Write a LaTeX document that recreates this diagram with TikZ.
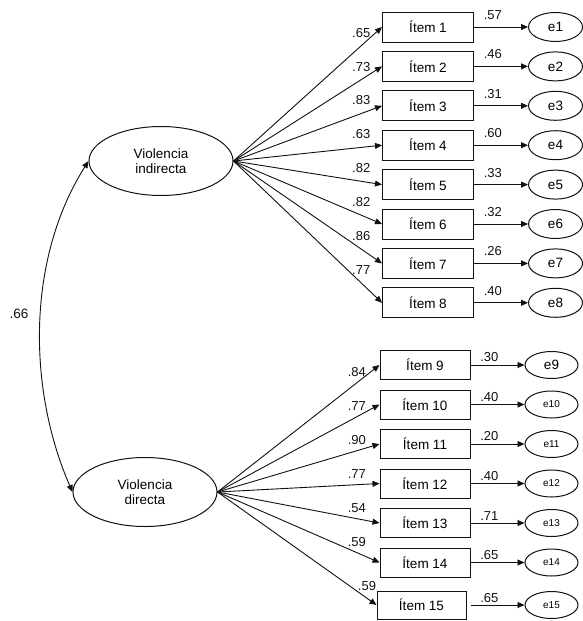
\documentclass[tikz,border=0pt]{standalone}
\usepackage{fontspec}
\setmainfont{Liberation Sans}
\usetikzlibrary{arrows.meta,positioning,shapes.geometric}
\definecolor{Ink}{HTML}{111111}
\tikzset{
  factor/.style={
    ellipse, draw=Ink, line width=1pt, minimum width=144pt, minimum height=69pt,
    inner sep=0pt, align=center, font=\fontsize{13.5}{15}\selectfont
  },
  indicator/.style={
    rectangle, draw=Ink, line width=1pt, minimum width=91pt, minimum height=30pt,
    inner sep=0pt, font=\fontsize{13.5}{15}\selectfont
  },
  resid/.style={
    ellipse, draw=Ink, line width=1pt, minimum width=54pt, minimum height=29pt,
    inner sep=0pt
  },
  coef/.style={inner sep=1pt, text=Ink, font=\fontsize{13}{15}\selectfont},
  loading/.style={-{Triangle[length=7pt,width=6pt]}, line width=0.9pt, draw=Ink},
  covflow/.style={{Triangle[length=7pt,width=6pt]}-{Triangle[length=7pt,width=6pt]}, line width=0.9pt, draw=Ink}
}
\begin{document}
\begin{tikzpicture}[x=1pt,y=-1pt]
    \useasboundingbox (0,0) rectangle (582,621);
    \node[factor] (vi) at (161,161) {Violencia\\indirecta};
    \node[factor] (vd) at (145,492) {Violencia\\directa};
    \foreach \n/\l/\r [count=\k from 0] in {1/.65/.57,2/.73/.46,3/.83/.31,4/.63/.60,5/.82/.33,6/.82/.32,7/.86/.26,8/.77/.40} {
      \node[indicator] (i\n) at (428,27+39.4*\k) {Ítem \n};
      \node[resid,right=54pt of i\n,font=\fontsize{13.5}{15}\selectfont] (e\n) {e\n};
      \draw[loading] (vi.east) -- node[coef,pos=0.86,above=7pt] {\l} (i\n.west);
      \draw[loading] (i\n) -- node[coef,pos=0.35,above=6pt] {\r} (e\n);
    }
    \foreach \n/\l/\r/\s [count=\k from 0] in {9/.84/.30/13.5,10/.77/.40/10,11/.90/.20/10,12/.77/.40/10,13/.54/.71/10,14/.59/.65/10} {
      \node[indicator,minimum width=90pt,minimum height=29pt] (i\n) at (425,365+39.5*\k) {Ítem \n};
      \node[resid,right=54pt of i\n,minimum height=27pt,minimum width=53pt,font=\fontsize{\s}{12}\selectfont] (e\n) {e\n};
      \draw[loading] (vd.east) -- node[coef,pos=0.86,above=5pt] {\l} (i\n.west);
      \draw[loading] (i\n) -- node[coef,pos=0.35,above=1.5pt] {\r} (e\n);
    }
    \node[indicator,minimum width=89pt,minimum height=28pt] (i15) at (421.5,605) {Ítem 15};
    \node[resid,right=58pt of i15,minimum height=27pt,minimum width=53pt,font=\fontsize{10}{12}\selectfont] (e15) {e15};
    \draw[loading] (vd.east) -- node[coef,pos=0.94,above=6pt] {.59} (i15.west);
    \draw[loading] ([xshift=4pt]i15.east) -- node[coef,pos=0.35,above=1pt] {.65} (e15);
    \draw[covflow] (vd.west) .. controls (28,390) and (26,260) .. (vi.west);
    \node[coef,font=\fontsize{13.5}{15}\selectfont] (cov) at (19,314) {.66};
\end{tikzpicture}
\end{document}
